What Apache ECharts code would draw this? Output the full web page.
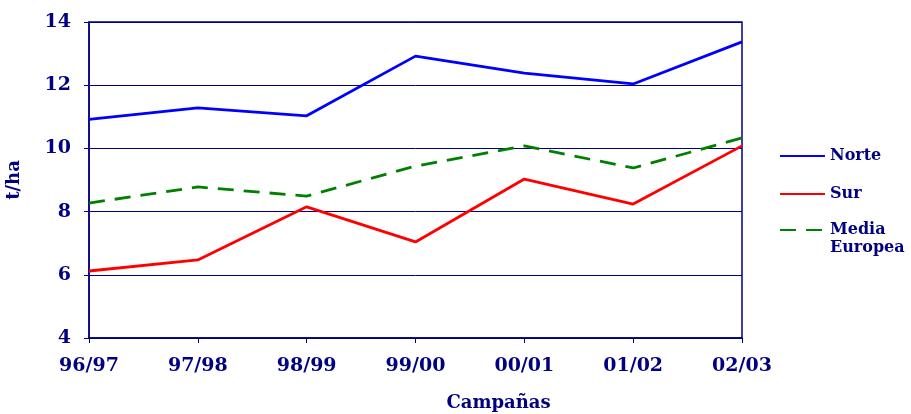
<!DOCTYPE html>
<html>
<head>
<meta charset="utf-8">
<script src="https://cdn.jsdelivr.net/npm/echarts@6/dist/echarts.min.js"></script>
<style>
  html, body { margin: 0; padding: 0; background: #fff; }
  #chart { width: 911px; height: 414px; }
</style>
</head>
<body>
<div id="chart"></div>
<script>
const campanas = ['96/97', '97/98', '98/99', '99/00', '00/01', '01/02', '02/03'];
const norte = [10.92, 11.28, 11.03, 12.92, 12.38, 12.04, 13.37];
const sur = [6.12, 6.47, 8.15, 7.04, 9.03, 8.24, 10.08];
const mediaEuropea = [8.27, 8.78, 8.49, 9.44, 10.08, 9.38, 10.33];

const navy = '#000080';
const font = 'DejaVu Serif';

const legendBase = {
  orient: 'vertical',
  left: 779,
  padding: 0,
  itemWidth: 45,
  itemHeight: 14,
  itemGap: 20,
  itemStyle: { opacity: 0 },
  textStyle: {
    fontFamily: font, fontWeight: 'bold', fontSize: 16, color: navy, lineHeight: 18,
    rich: {
      m: { fontFamily: font, fontWeight: 'bold', fontSize: 16, color: navy, lineHeight: 18, padding: [18, 0, 0, 0] }
    }
  },
  formatter(name) {
    return name === 'Media Europea' ? '{m|Media\nEuropea}' : name;
  }
};

const chart = echarts.init(document.getElementById('chart'));
const option = {
  animation: false,
  textStyle: { fontFamily: font, fontWeight: 'bold', color: navy },
  grid: {
    left: 89, right: 169, top: 22, bottom: 76,
    outerBoundsMode: 'none',
    show: true,
    borderColor: navy,
    borderWidth: 1.5,
    backgroundColor: '#fff'
  },
  legend: [
    Object.assign({}, legendBase, { top: 147, data: ['Norte', 'Sur'] }),
    Object.assign({}, legendBase, { top: 204, data: ['Media Europea'] })
  ],
  xAxis: {
    type: 'category',
    boundaryGap: false,
    data: campanas,
    name: 'Campañas',
    nameLocation: 'middle',
    nameGap: 56,
    nameTextStyle: { fontFamily: font, fontWeight: 'bold', fontSize: 18, color: navy, padding: [0, 0, 0, 166] },
    axisLine: { lineStyle: { color: navy, width: 1.5 } },
    axisTick: { alignWithLabel: true, length: 5, lineStyle: { color: navy } },
    axisLabel: { fontFamily: font, fontWeight: 'bold', fontSize: 19, color: navy, margin: 19 }
  },
  yAxis: {
    type: 'value',
    min: 4,
    max: 14,
    interval: 2,
    name: 't/ha',
    nameLocation: 'middle',
    nameGap: 66,
    nameTextStyle: { fontFamily: font, fontWeight: 'bold', fontSize: 18, color: navy },
    axisLine: { show: true, lineStyle: { color: navy, width: 1.5 } },
    axisTick: { show: true, length: 5, lineStyle: { color: navy } },
    axisLabel: { fontFamily: font, fontWeight: 'bold', fontSize: 19, color: navy, margin: 18 },
    splitLine: { lineStyle: { color: navy, width: 1 } }
  },
  series: [
    {
      name: 'Norte',
      type: 'line',
      data: norte,
      symbol: 'none',
      lineStyle: { color: '#0000ff', width: 2.8 },
      itemStyle: { color: '#0000ff' }
    },
    {
      name: 'Sur',
      type: 'line',
      data: sur,
      symbol: 'none',
      lineStyle: { color: '#ff0000', width: 2.8 },
      itemStyle: { color: '#ff0000' }
    },
    {
      name: 'Media Europea',
      type: 'line',
      data: mediaEuropea,
      symbol: 'none',
      lineStyle: { color: '#008000', width: 2.8, type: [16, 10] },
      itemStyle: { color: '#008000' }
    }
  ]
};
chart.setOption(option);
window.addEventListener('resize', () => {
  chart.resize();
});
</script>
</body>
</html>
